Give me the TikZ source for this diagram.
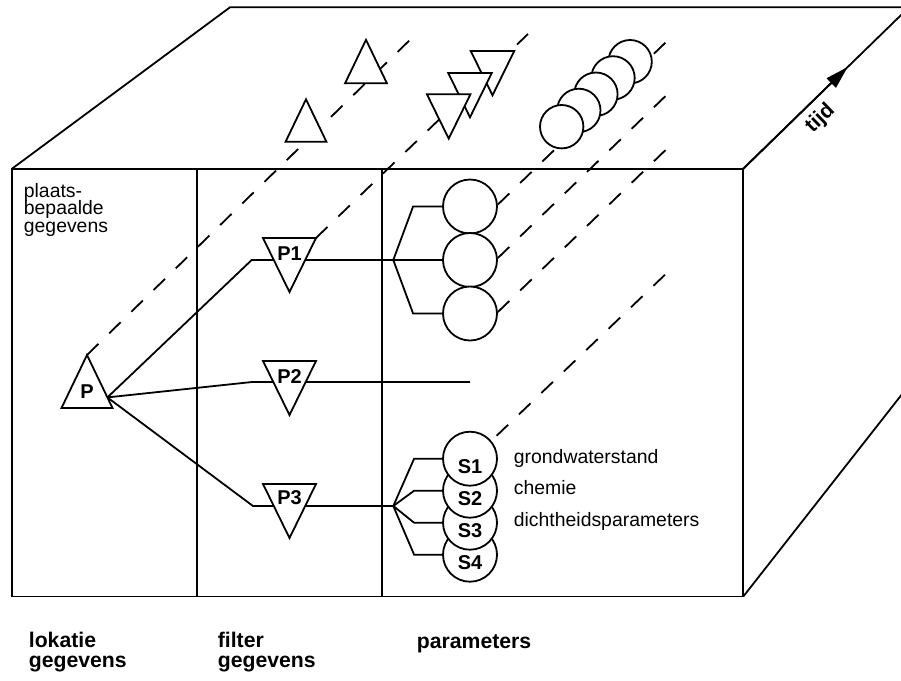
\documentclass[tikz,border=0pt]{standalone}
\usepackage{fontspec}
\setmainfont{Liberation Sans}
\usetikzlibrary{calc,arrows.meta}

\tikzset{
  txt/.style={font=\fontsize{9.7}{11}\selectfont, inner sep=0pt, anchor=base west},
  boldtxt/.style={font=\fontsize{10}{12}\selectfont\bfseries, inner sep=0pt},
  captxt/.style={font=\fontsize{10.6}{12}\selectfont\bfseries, inner sep=0pt, anchor=base west},
  pcirc/.style={circle, draw, fill=white, minimum size=27pt, inner sep=0pt},
  kcirc/.style={circle, draw, fill=white, minimum size=21.7pt, inner sep=0pt},
  tline/.style={dash pattern=on 8pt off 7.5pt},
  uptri/.pic={\draw[fill=white] (0,-35) coordinate (-t) -- (25.5,18) coordinate (-r) -- (-25.5,18) coordinate (-l) -- cycle;},
  downtri/.pic={\draw[fill=white] (-26.5,-18) coordinate (-l) -- (26.5,-18) coordinate (-r) -- (0,36) coordinate (-b) -- cycle;},
}

\begin{document}
\begin{tikzpicture}[x=0.5pt, y=-0.5pt, line width=0.9pt]
    \useasboundingbox (0,0) rectangle (901,681);
    % block
    \coordinate (ftl) at (12,168.7); \coordinate (ftr) at (743.3,168.7);
    \coordinate (fbl) at (12,596.5); \coordinate (fbr) at (743.3,596.5);
    \coordinate (btl) at (230,7.3); \coordinate (btr) at (909,7.3); \coordinate (bbr) at (910,384);
    \draw (ftl) -- (ftr) -- (fbr) -- (fbl) -- cycle;
    \draw (ftl) -- (btl) -- (btr) -- (ftr); \draw (fbr) -- (bbr);
    \draw (197,168.7) -- (197,596.5); \draw (381.7,168.7) -- (381.7,596.5);

    % time axis
    \draw[-{Triangle[length=11.5pt,width=6.5pt]}] (ftr) -- ($(ftr)!0.63!(btr)$);
    \path (ftr) -- (btr) node[pos=0.39, sloped, below, font=\fontsize{10.5}{12}\selectfont\bfseries, inner sep=3.6pt] (tijd) {tijd};

    % location, parameters
    \pic (tP) at (87,390) {uptri};
    \coordinate (tP-o) at ($(tP-t)!0.8!(tP-r)$);
    \foreach \i/\y in {1/206.5,2/260,3/313.5} \node[pcirc] (c\i) at (470,\y) {};
    \foreach \i/\y in {4/554.7,3/522.7,2/490.7,1/458.7} {
        \node[pcirc] (S\i) at (470,\y) {};
        \node[boldtxt] (lS\i) at ($(S\i)+(0,7.5)$) {S\i};
    }

    % connections
    \coordinate (b1) at (393.3,260); \coordinate (b3) at (393.3,506); \coordinate (e2) at (470,382);
    \draw (tP-o) -- (251.7,260) -- (b1);
    \draw (tP-o) -- (252,382) -- (e2);
    \draw (tP-o) -- (253,506) -- (b3);
    \foreach \i in {1,3} \draw (b1) -- ($(c\i.west)+(-29,0)$) -- (c\i.west);
    \draw (b1) -- (c2.west);
    \foreach \i in {1,...,4} \draw (b3) -- ($(S\i.west)+(-28,0)$) -- (S\i.west);

    \pic (tP1) at (289.5,256) {downtri};
    \pic (tP2) at (289.5,379) {downtri};
    \pic (tP3) at (289.5,502) {downtri};

    % lines in time
    \draw[tline] (tP-t) -- ++(330,-322);
    \draw[tline] (tP1-r) -- ++(212,-204);
    \draw[tline] (c1.4) -- ++(177,-171);
    \draw[tline] (c2.4) -- ++(177,-171);
    \draw[tline] (c3.3) -- ++(177,-171);
    \draw[tline, dash phase=11.9pt] (S1.40) -- ++(183,-175);

    \pic[scale=0.8] (tb1) at (306,127.3) {uptri};
    \pic[scale=0.82] (tb2) at (366,68.5) {uptri};
    \foreach \n/\x/\y in {5/492.5/65.8, 4/470/87.8, 3/448.7/109.1} \pic[scale=0.82] (tb\n) at (\x,\y) {downtri};
    \foreach \i/\x/\y in {5/630.1/61.7, 4/613/77.9, 3/595.9/94.2, 2/578.8/110.4, 1/561.7/126.7} \node[kcirc] (k\i) at (\x,\y) {};

    % labels
    \node[boldtxt] (P) at (87,391.5) {P};
    \node[boldtxt] (P1) at (289.5,254) {P1};
    \node[boldtxt] (P2) at (289.5,377) {P2};
    \node[boldtxt] (P3) at (289.5,498) {P3};
    \foreach \t [count=\i] in {plaats-,bepaalde,gegevens} \node[txt] (loc\i) at (23,179.5+17.5*\i) {\t};
    \node[txt] (s1) at (513,463) {grondwaterstand};
    \node[txt] (s2) at (513,494) {chemie};
    \node[txt] (s3) at (513,526) {dichtheidsparameters};
    \node[captxt] (lok1) at (28,647.5) {lokatie};
    \node[captxt] (lok2) at (28,667.2) {gegevens};
    \node[captxt] (fil1) at (217,647.5) {filter};
    \node[captxt] (fil2) at (217,667.2) {gegevens};
    \node[captxt] (par) at (416,648) {parameters};
\end{tikzpicture}
\end{document}
